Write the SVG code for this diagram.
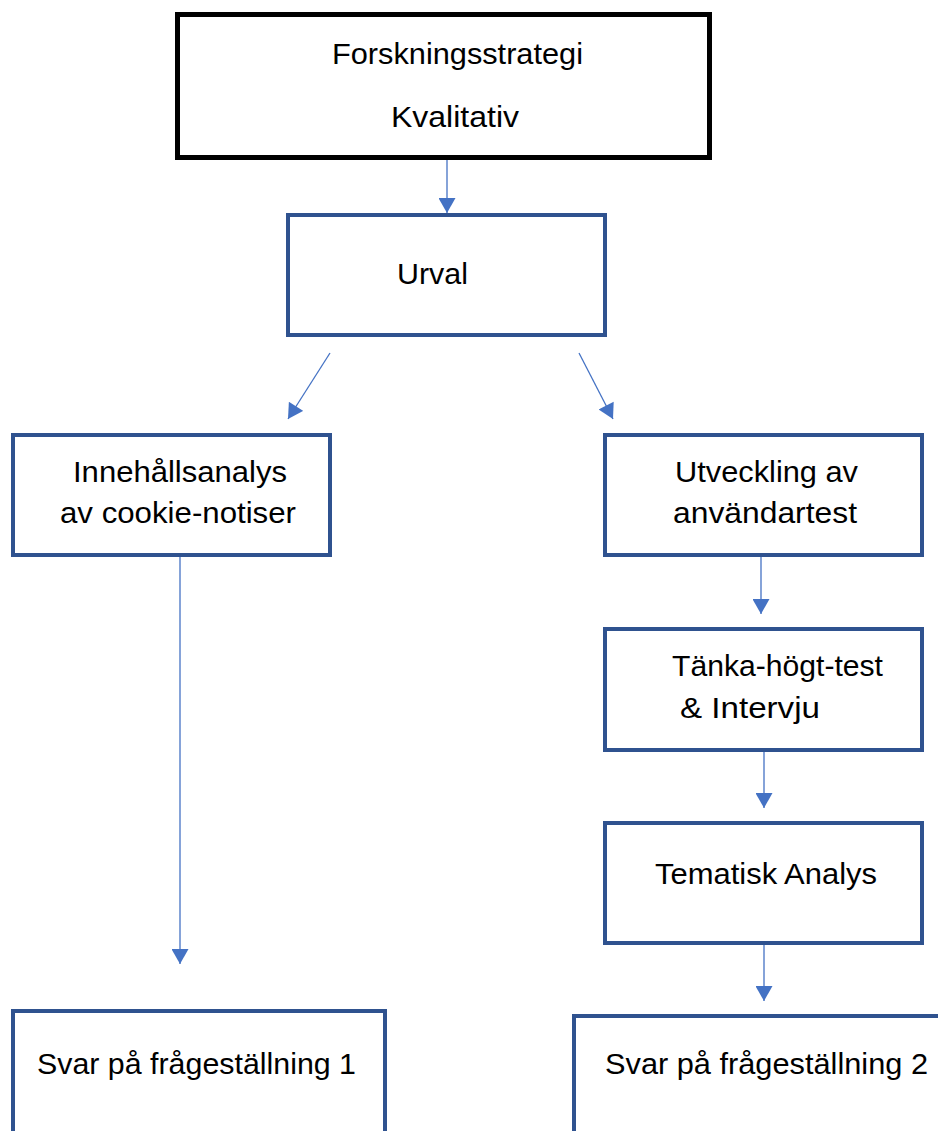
<svg xmlns="http://www.w3.org/2000/svg" width="938" height="1131" viewBox="0 0 938 1131">
<style>
  .box { fill: #ffffff; stroke: #2F528F; stroke-width: 4; }
  .top { fill: #ffffff; stroke: #000000; stroke-width: 5; }
  .lbl { font-family: "Liberation Sans", Arial, sans-serif; font-size: 30px; fill: #000000; }
  .con { stroke: #4472C4; stroke-width: 1.3; fill: none; marker-end: url(#ah); }
</style>
<defs>
  <marker id="ah" markerUnits="userSpaceOnUse" markerWidth="16" markerHeight="17" viewBox="0 0 15 17" refX="15" refY="8.5" orient="auto">
    <path d="M0,0 L15,8.5 L0,17 Z" fill="#4472C4"/>
  </marker>
</defs>
<rect width="938" height="1131" fill="#ffffff"/>
<g id="connectors">
  <line class="con" x1="447" y1="160" x2="447" y2="213"/>
  <line class="con" x1="330" y1="353" x2="288" y2="419"/>
  <line class="con" x1="579" y1="353" x2="613" y2="419"/>
  <line class="con" x1="180" y1="557" x2="180" y2="964"/>
  <line class="con" x1="761" y1="557" x2="761" y2="614"/>
  <line class="con" x1="764" y1="752" x2="764" y2="808"/>
  <line class="con" x1="764" y1="945" x2="764" y2="1001"/>
</g>
<g id="forskningsstrategi">
  <rect class="top" x="177.5" y="14.5" width="532" height="143"/>
  <text class="lbl" x="332" y="64" textLength="251" lengthAdjust="spacingAndGlyphs">Forskningsstrategi</text>
  <text class="lbl" x="391" y="127" textLength="128" lengthAdjust="spacingAndGlyphs">Kvalitativ</text>
</g>
<g id="urval">
  <rect class="box" x="288" y="215" width="317" height="120"/>
  <text class="lbl" x="397" y="284" textLength="71" lengthAdjust="spacingAndGlyphs">Urval</text>
</g>
<g id="innehallsanalys">
  <rect class="box" x="13" y="435" width="317" height="120"/>
  <text class="lbl" x="73" y="482" textLength="214" lengthAdjust="spacingAndGlyphs">Innehållsanalys</text>
  <text class="lbl" x="60" y="523" textLength="236" lengthAdjust="spacingAndGlyphs">av cookie-notiser</text>
</g>
<g id="utveckling">
  <rect class="box" x="605" y="435" width="317" height="120"/>
  <text class="lbl" x="675" y="482" textLength="183" lengthAdjust="spacingAndGlyphs">Utveckling av</text>
  <text class="lbl" x="673" y="523" textLength="184" lengthAdjust="spacingAndGlyphs">användartest</text>
</g>
<g id="tanka">
  <rect class="box" x="605" y="629" width="317" height="121"/>
  <text class="lbl" x="672" y="676" textLength="211" lengthAdjust="spacingAndGlyphs">Tänka-högt-test</text>
  <text class="lbl" x="680" y="718" textLength="140" lengthAdjust="spacingAndGlyphs">&amp; Intervju</text>
</g>
<g id="tematisk">
  <rect class="box" x="605" y="823" width="317" height="120"/>
  <text class="lbl" x="655" y="884" textLength="222" lengthAdjust="spacingAndGlyphs">Tematisk Analys</text>
</g>
<g id="svar1">
  <rect class="box" x="13" y="1011" width="372" height="200"/>
  <text class="lbl" x="37" y="1074" textLength="319" lengthAdjust="spacingAndGlyphs">Svar på frågeställning 1</text>
</g>
<g id="svar2">
  <rect class="box" x="574" y="1016" width="400" height="200"/>
  <text class="lbl" x="605" y="1074" textLength="323" lengthAdjust="spacingAndGlyphs">Svar på frågeställning 2</text>
</g>
</svg>
